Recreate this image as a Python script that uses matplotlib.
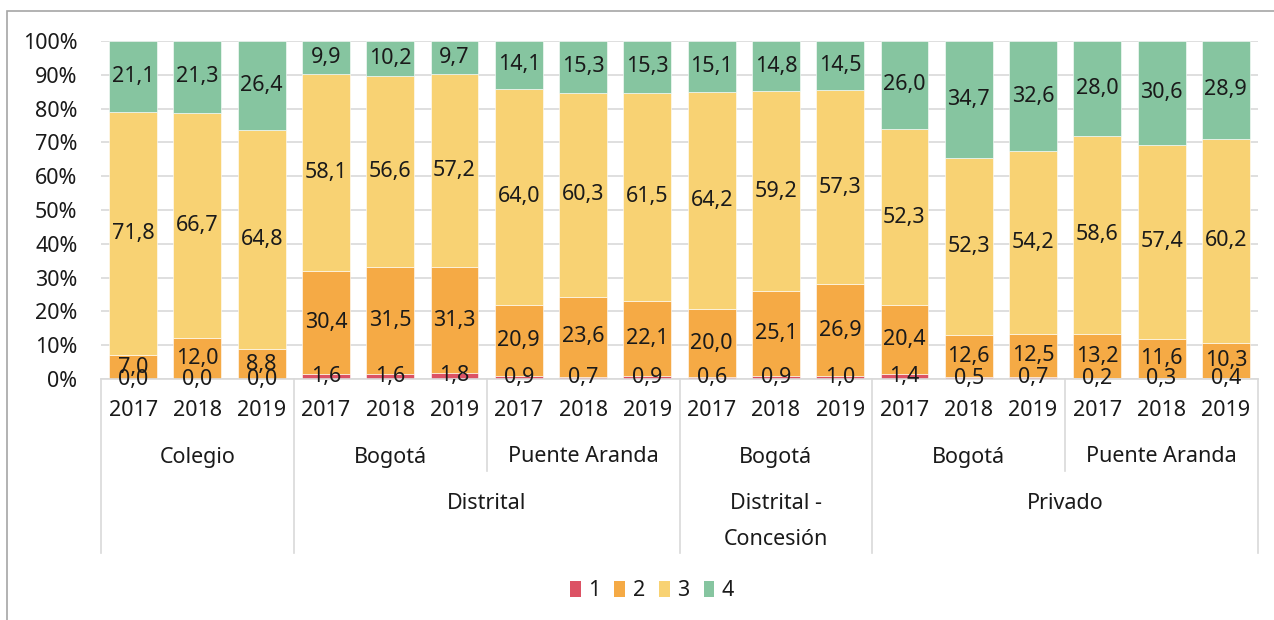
import numpy as np
import matplotlib.pyplot as plt
from matplotlib.patches import Patch, Rectangle
from matplotlib.lines import Line2D
import matplotlib.transforms as mtransforms

plt.rcParams['font.family'] = ['Noto Sans', 'DejaVu Sans']

years = ["2017", "2018", "2019"] * 6
level2 = ["Colegio", "Bogotá", "Puente Aranda", "Bogotá", "Bogotá", "Puente Aranda"]
level3 = ["Distrital", "Distrital -\nConcesión", "Privado"]
series_names = ["1", "2", "3", "4"]

s1 = [0.0, 0.0, 0.0, 1.6, 1.6, 1.8, 0.9, 0.7, 0.9, 0.6, 0.9, 1.0, 1.4, 0.5, 0.7, 0.2, 0.3, 0.4]
s2 = [7.0, 12.0, 8.8, 30.4, 31.5, 31.3, 20.9, 23.6, 22.1, 20.0, 25.1, 26.9, 20.4, 12.6, 12.5, 13.2, 11.6, 10.3]
s3 = [71.8, 66.7, 64.8, 58.1, 56.6, 57.2, 64.0, 60.3, 61.5, 64.2, 59.2, 57.3, 52.3, 52.3, 54.2, 58.6, 57.4, 60.2]
s4 = [21.1, 21.3, 26.4, 9.9, 10.2, 9.7, 14.1, 15.3, 15.3, 15.1, 14.8, 14.5, 26.0, 34.7, 32.6, 28.0, 30.6, 28.9]

colors = ["#DC5264", "#F5AA45", "#F8D273", "#86C5A0"]
txt = "#1a1a1a"
fs = 15.5

data = np.array([s1, s2, s3, s4])
pct = data / data.sum(axis=0) * 100
x = np.arange(len(years))

fig = plt.figure(figsize=(12.74, 6.2), dpi=100)
ax = fig.add_axes([101 / 1274, 241 / 620, 1157 / 1274, 338 / 620])

bottom = np.zeros(len(x))
for i in range(4):
    ax.bar(x, pct[i], 0.745, bottom=bottom, color=colors[i], edgecolor="white",
           linewidth=0.4, zorder=2)
    for xi, b, h, v in zip(x, bottom, pct[i], data[i]):
        ax.text(xi, b + h / 2, f"{v:.1f}".replace(".", ","), ha="center", va="center",
                fontsize=fs, color=txt, zorder=3)
    bottom += pct[i]

ax.set_xlim(-0.5, len(x) - 0.5)
ax.set_ylim(0, 100)
ax.set_yticks(np.arange(0, 101, 10))
ax.set_yticklabels([f"{v}%" for v in range(0, 101, 10)], fontsize=fs, color=txt)
ax.tick_params(axis="y", length=0, pad=17)
ax.set_xticks([])
ax.yaxis.grid(True, color="#d9d9d9", linewidth=1.2, zorder=0)
for s in ["top", "right", "left"]:
    ax.spines[s].set_visible(False)
ax.spines["bottom"].set_color("#d9d9d9")
ax.spines["bottom"].set_linewidth(1.2)

# multi-level category axis
tr = mtransforms.blended_transform_factory(ax.transData, ax.transAxes)
px = 1 / 338
for xi, yr in zip(x, years):
    ax.text(xi, -31 * px, yr, ha="center", va="center", fontsize=fs, color=txt,
            transform=tr, clip_on=False)
l2_centers = [1, 4, 7, 10, 13, 16]
for c, lab in zip(l2_centers, level2):
    ax.text(c, -78 * px, lab, ha="center", va="center", fontsize=fs, color=txt,
            transform=tr, clip_on=False)
l3_centers = [5.5, 10, 14.5]
for c, lab in zip(l3_centers, level3):
    ax.text(c, -114 * px, lab, ha="center", va="top", fontsize=fs, color=txt,
            transform=tr, clip_on=False, linespacing=1.95)

for b in [-0.5, 2.5, 8.5, 11.5, 17.5]:
    ax.add_line(Line2D([b, b], [0, -174 * px], color="#d9d9d9", lw=1.2,
                       transform=tr, clip_on=False))
for b in [5.5, 14.5]:
    ax.add_line(Line2D([b, b], [0, -92 * px], color="#d9d9d9", lw=1.2,
                       transform=tr, clip_on=False))

# outer chart frame
fig.add_artist(Rectangle((7 / 1274, -0.1), 1.2, 1 - 11 / 620 + 0.1, transform=fig.transFigure,
                         fill=False, edgecolor="#a6a6a6", linewidth=1.2))

handles = [Patch(facecolor=c, edgecolor="none") for c in colors]
fig.legend(handles, series_names, loc="center", bbox_to_anchor=(652 / 1274, 1 - 591 / 620),
           ncol=4, frameon=False, fontsize=fs, handlelength=0.5, handleheight=0.8,
           handletextpad=0.35, columnspacing=0.65, labelcolor=txt)

fig.savefig("out.png", dpi=100)
